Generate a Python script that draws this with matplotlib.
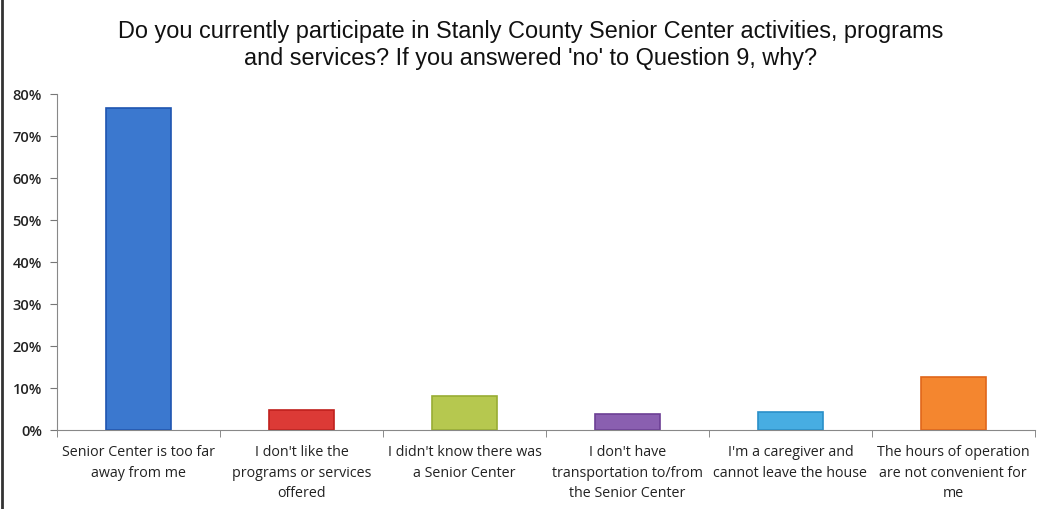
import matplotlib
matplotlib.use("Agg")
import matplotlib.pyplot as plt
from matplotlib.ticker import PercentFormatter, FixedLocator

categories = [
    "Senior Center is too far\naway from me",
    "I don't like the\nprograms or services\noffered",
    "I didn't know there was\na Senior Center",
    "I don't have\ntransportation to/from\nthe Senior Center",
    "I'm a caregiver and\ncannot leave the house",
    "The hours of operation\nare not convenient for\nme",
]
values = [76.7, 4.8, 8.1, 3.8, 4.3, 12.6]
colors = ["#3b78cf", "#dc3a36", "#b6c84f", "#8a5fb0", "#47ade2", "#f4862f"]
edge_colors = ["#1f55b0", "#c0201d", "#98ad34", "#6d3f95", "#2a8fc8", "#e0661a"]
title = ("Do you currently participate in Stanly County Senior Center activities, programs\n"
         "and services? If you answered 'no' to Question 9, why?")

fig = plt.figure(figsize=(10.41, 5.09), dpi=100)
ax = fig.add_axes([0.055, 0.155, 0.939, 0.66])

x = range(len(categories))
ax.bar(x, values, width=0.4, color=colors, edgecolor=edge_colors, linewidth=1.2)

ax.set_xlim(-0.5, len(categories) - 0.5)
ax.set_ylim(0, 80)
ax.yaxis.set_major_locator(FixedLocator(range(0, 81, 10)))
ax.yaxis.set_major_formatter(PercentFormatter(decimals=0))
ax.set_xticks(list(x))
ax.set_xticklabels(categories, fontsize=10.3, family=["Open Sans", "DejaVu Sans"], color="#222222",
                   linespacing=1.5)
ax.xaxis.set_minor_locator(FixedLocator([i + 0.5 for i in range(-1, len(categories))]))
ax.tick_params(axis="x", which="major", length=0, pad=11)
ax.tick_params(axis="x", which="minor", length=5, color="#777777")
ax.tick_params(axis="y", length=5, color="#777777", labelsize=10.5, pad=6)
for lab in ax.get_yticklabels():
    lab.set_family(["Open Sans", "DejaVu Sans"])
    lab.set_fontweight("semibold")
    lab.set_color("#222222")

for s in ["top", "right"]:
    ax.spines[s].set_visible(False)
ax.spines["left"].set_color("#888888")
ax.spines["bottom"].set_color("#888888")

fig.text(0.51, 0.96, title, ha="center", va="top", fontsize=16.9,
         family=["Liberation Sans", "DejaVu Sans"], color="#111111", linespacing=1.2)

# chart frame
fig.add_artist(plt.Line2D([0.002, 0.002], [0, 1], transform=fig.transFigure, color="#333333", lw=2))

fig.savefig("out.png", dpi=100)
